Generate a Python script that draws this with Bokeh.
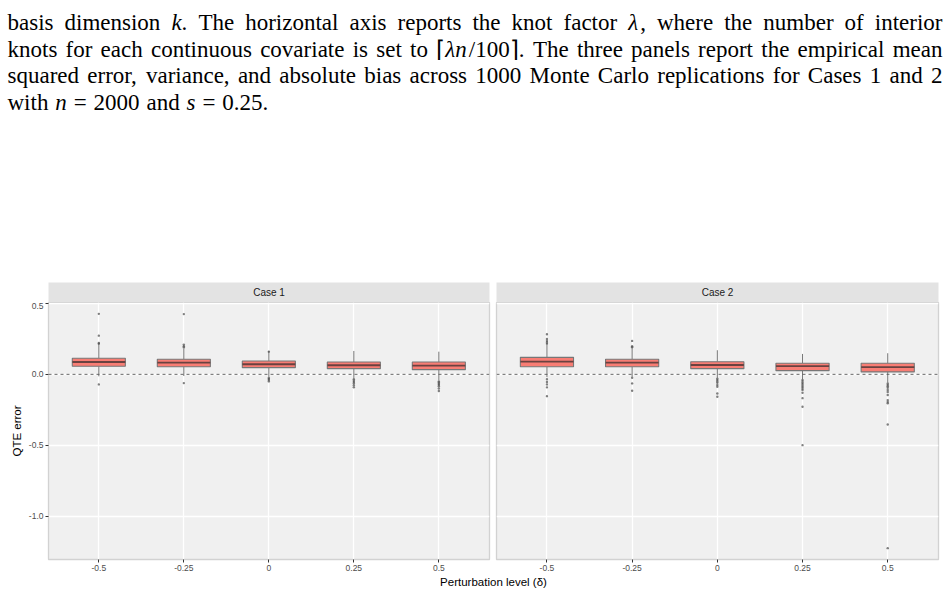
from bokeh.plotting import figure
from bokeh.models import Range1d, FixedTicker, Span, Label, ColumnDataSource
from bokeh.layouts import column, row
from bokeh.embed import file_html
from bokeh.resources import INLINE
from bokeh.core.properties import value

# ---------------- data ----------------
# caption text ($...$ marks math italic)
caption_lines = [
    "basis dimension $k$. The horizontal axis reports the knot factor $\u03bb$, where the number of interior",
    "knots for each continuous covariate is set to \u2308$\u03bbn$/100\u2309. The three panels report the empirical mean",
    "squared error, variance, and absolute bias across 1000 Monte Carlo replications for Cases 1 and 2",
    "with $n$ = 2000 and $s$ = 0.25.",
]

levels = [-0.5, -0.25, 0.0, 0.25, 0.5]
tick_labels_x = ["-0.5", "-0.25", "0", "0.25", "0.5"]
y_ticks = [-1.0, -0.5, 0.0, 0.5]
tick_labels_y = ["-1.0", "-0.5", "0.0", "0.5"]
panel_names = ["Case 1", "Case 2"]

# Case 1 box statistics
c1_q1 = [0.057, 0.054, 0.047, 0.040, 0.033]
c1_med = [0.087, 0.082, 0.071, 0.064, 0.061]
c1_q3 = [0.114, 0.106, 0.094, 0.087, 0.087]
c1_lo = [-0.014, -0.012, -0.018, -0.028, -0.042]
c1_hi = [0.212, 0.182, 0.165, 0.165, 0.160]
c1_out_x = [-0.5, -0.5, -0.5, -0.5, -0.5,
            -0.25, -0.25, -0.25, -0.25, -0.25,
            0.0, 0.0, 0.0, 0.0, 0.0,
            0.25, 0.25, 0.25, 0.25, 0.25, 0.25,
            0.5, 0.5, 0.5, 0.5, 0.5, 0.5, 0.5]
c1_out_y = [0.427, 0.273, 0.222, 0.216, -0.071,
            0.425, 0.210, 0.198, 0.190, -0.062,
            0.160, -0.025, -0.032, -0.040, -0.050,
            -0.035, -0.045, -0.055, -0.065, -0.078, -0.092,
            -0.050, -0.058, -0.066, -0.075, -0.085, -0.100, -0.118]

# Case 2 box statistics
c2_q1 = [0.054, 0.054, 0.040, 0.026, 0.017]
c2_med = [0.089, 0.082, 0.066, 0.058, 0.051]
c2_q3 = [0.120, 0.106, 0.089, 0.078, 0.078]
c2_lo = [-0.020, -0.017, -0.025, -0.035, -0.058]
c2_hi = [0.207, 0.190, 0.170, 0.144, 0.149]
c2_out_x = [-0.5] * 10 + [-0.25] * 6 + [0.0] * 8 + [0.25] * 12 + [0.5] * 12
c2_out_y = [0.283, 0.250, 0.235, 0.225, 0.215, -0.035, -0.054, -0.071, -0.092, -0.154,
            0.236, 0.198, 0.192, -0.024, -0.064, -0.116,
            -0.030, -0.040, -0.050, -0.060, -0.075, -0.088, -0.135, -0.158,
            -0.040, -0.050, -0.060, -0.070, -0.080, -0.090, -0.100, -0.110, -0.130, -0.168, -0.229, -0.500,
            -0.065, -0.075, -0.085, -0.095, -0.110, -0.125, -0.146, -0.182, -0.195, -0.205, -0.354, -1.227]

cases = [
    dict(q1=c1_q1, med=c1_med, q3=c1_q3, lo=c1_lo, hi=c1_hi, ox=c1_out_x, oy=c1_out_y),
    dict(q1=c2_q1, med=c2_med, q3=c2_q3, lo=c2_lo, hi=c2_hi, ox=c2_out_x, oy=c2_out_y),
]

# ---------------- style ----------------
PANEL_BG = "#F0F0F0"
STRIP_BG = "#E3E3E3"
BORDER = "#D2D2D2"
BOX_FILL = "#F8766D"
BOX_LINE = "#777777"
MED_LINE = "#6A4240"
TICK_COL = "#4D4D4D"
SANS = "Liberation Sans"
SERIF = "Liberation Serif"
BOX_W = 0.156
CAP_FS = 23.0
CAP_LEFT, CAP_RIGHT = 7.0, 942.0
CAP_BASE = [22, 48.5, 75, 101.5]

# Times-compatible advance widths (1/1000 em) for justified caption layout
_W = {" ": 250, "(": 333, ")": 333, ",": 250, "-": 333, ".": 250, "/": 278, "=": 564,
      "\u03bb": 500, "\u2308": 400, "\u2309": 400}
for ch in "0123456789":
    _W[ch] = 500
_W.update(dict(zip("ABCDEFGHIJKLMNOPQRSTUVWXYZ",
                   [722, 667, 667, 722, 611, 556, 722, 722, 333, 389, 722, 611, 889, 722, 722,
                    556, 722, 667, 556, 611, 722, 722, 944, 722, 722, 611])))
_W.update(dict(zip("abcdefghijklmnopqrstuvwxyz",
                   [444, 500, 444, 500, 444, 333, 500, 500, 278, 278, 500, 278, 778, 500, 500,
                    500, 500, 333, 389, 278, 500, 500, 722, 500, 500, 444])))
_WI = {"k": 444, "n": 500, "s": 389, "\u03bb": 520}


def seg_width(txt, italic):
    tab = _WI if italic else {}
    return sum(tab.get(c, _W.get(c, 500)) for c in txt) * CAP_FS / 1000.0


cx, cy, ct, cs = [], [], [], []
for li, line in enumerate(caption_lines):
    words = line.split(" ")
    parsed = []
    for wd in words:
        parts = wd.split("$")
        segs = [(t, k % 2 == 1) for k, t in enumerate(parts) if t]
        parsed.append(segs)
    widths = [sum(seg_width(t, it) for t, it in segs) for segs in parsed]
    last = li == len(caption_lines) - 1
    if last:
        gap = 0.3 * CAP_FS
    else:
        gap = (CAP_RIGHT - CAP_LEFT - sum(widths)) / (len(words) - 1)
    x = CAP_LEFT
    for segs, wdt in zip(parsed, widths):
        xx = x
        for t, it in segs:
            cx.append(xx)
            cy.append(CAP_BASE[li])
            ct.append(t)
            cs.append("italic" if it else "normal")
            xx += seg_width(t, it)
        x += wdt + gap

cap_src = ColumnDataSource(dict(x=cx, y=cy, text=ct, style=cs))

cap = figure(width=949, height=282, x_range=Range1d(0, 949), y_range=Range1d(282, 0),
             output_backend="svg", toolbar_location=None, min_border=0,
             x_axis_location=None, y_axis_location=None)
cap.grid.visible = False
cap.outline_line_color = None
cap.background_fill_color = "white"
cap.text(x="x", y="y", text="text", source=cap_src, text_font_style="style",
         text_font=value(SERIF), text_font_size=f"{CAP_FS}px",
         text_baseline="alphabetic", text_align="left", text_color="black")


def make_panel(i, name, d):
    left = i == 0
    w = 492 if left else 457
    mbl = 48 if left else 4
    mbr = 3 if left else 11

    strip = figure(width=w, height=20, x_range=Range1d(0, 1), y_range=Range1d(0, 1),
                   output_backend="svg", toolbar_location=None,
                   min_border_left=mbl, min_border_right=mbr, min_border_top=0, min_border_bottom=0,
                   x_axis_location=None, y_axis_location=None)
    strip.grid.visible = False
    strip.outline_line_color = None
    strip.background_fill_color = STRIP_BG
    strip.add_layout(Label(x=0.5, y=0.5, text=name, text_align="center", text_baseline="middle",
                           text_font=SANS, text_font_size="10px", text_color="#1A1A1A"))

    p = figure(width=w, height=272, x_range=Range1d(-0.648, 0.649), y_range=Range1d(-1.307, 0.507),
               output_backend="svg", toolbar_location=None,
               min_border_left=mbl, min_border_right=mbr, min_border_top=0, min_border_bottom=15)
    p.background_fill_color = PANEL_BG
    p.border_fill_color = "white"
    p.outline_line_color = BORDER
    p.outline_line_width = 1.3

    p.xaxis.ticker = FixedTicker(ticks=levels)
    p.xaxis.major_label_overrides = {k: v for k, v in zip(levels, tick_labels_x)}
    p.yaxis.ticker = FixedTicker(ticks=y_ticks)
    p.yaxis.major_label_overrides = {k: v for k, v in zip(y_ticks, tick_labels_y)}
    for ax in (p.xaxis[0], p.yaxis[0]):
        ax.axis_line_color = None
        ax.major_tick_line_color = "#333333"
        ax.major_tick_line_width = 1
        ax.major_tick_out = 3
        ax.major_tick_in = 0
        ax.minor_tick_line_color = None
        ax.major_label_text_font = SANS
        ax.major_label_text_font_size = "8.5px"
        ax.major_label_text_color = TICK_COL
        ax.major_label_standoff = 2
    if left:
        p.yaxis.axis_label = "QTE error"
        p.yaxis.axis_label_text_font = SANS
        p.yaxis.axis_label_text_font_size = "11.5px"
        p.yaxis.axis_label_text_font_style = "normal"
        p.yaxis.axis_label_text_color = "black"
        p.yaxis.axis_label_standoff = 3
    else:
        p.yaxis.visible = False

    p.xgrid.ticker = FixedTicker(ticks=levels)
    p.ygrid.ticker = FixedTicker(ticks=y_ticks)
    p.grid.grid_line_color = "white"
    p.grid.grid_line_width = 1.3
    p.xgrid.minor_grid_line_color = None
    p.ygrid.minor_grid_line_color = None

    p.add_layout(Span(location=0, dimension="width", line_color="#555555",
                      line_width=0.9, line_dash="3 3"))

    # whiskers
    p.segment(x0=levels, y0=d["q3"], x1=levels, y1=d["hi"], line_color=BOX_LINE, line_width=1)
    p.segment(x0=levels, y0=d["q1"], x1=levels, y1=d["lo"], line_color=BOX_LINE, line_width=1)
    # outliers
    p.scatter(x=d["ox"], y=d["oy"], size=2.4, fill_color="#4a4a4a", line_color=None, fill_alpha=0.7)
    # boxes
    p.vbar(x=levels, width=BOX_W, bottom=d["q1"], top=d["q3"], fill_color=BOX_FILL,
           fill_alpha=0.95, line_color=BOX_LINE, line_width=1.1)
    # medians
    x0 = [x - BOX_W / 2 for x in levels]
    x1 = [x + BOX_W / 2 for x in levels]
    p.segment(x0=x0, y0=d["med"], x1=x1, y1=d["med"], line_color=MED_LINE, line_width=1.8)

    return column(strip, p, spacing=0)


panels = [make_panel(i, n, d) for i, (n, d) in enumerate(zip(panel_names, cases))]

xt = figure(width=949, height=20, x_range=Range1d(0, 949), y_range=Range1d(20, 0),
            output_backend="svg", toolbar_location=None, min_border=0,
            x_axis_location=None, y_axis_location=None)
xt.grid.visible = False
xt.outline_line_color = None
xt.add_layout(Label(x=493, y=7, text="Perturbation level (\u03b4)", text_align="center",
                    text_baseline="middle", text_font=SANS, text_font_size="11.5px",
                    text_color="black"))

layout = column(cap, row(*panels, spacing=0), xt, spacing=0)

with open("out.html", "w") as f:
    f.write(file_html(layout, INLINE))
